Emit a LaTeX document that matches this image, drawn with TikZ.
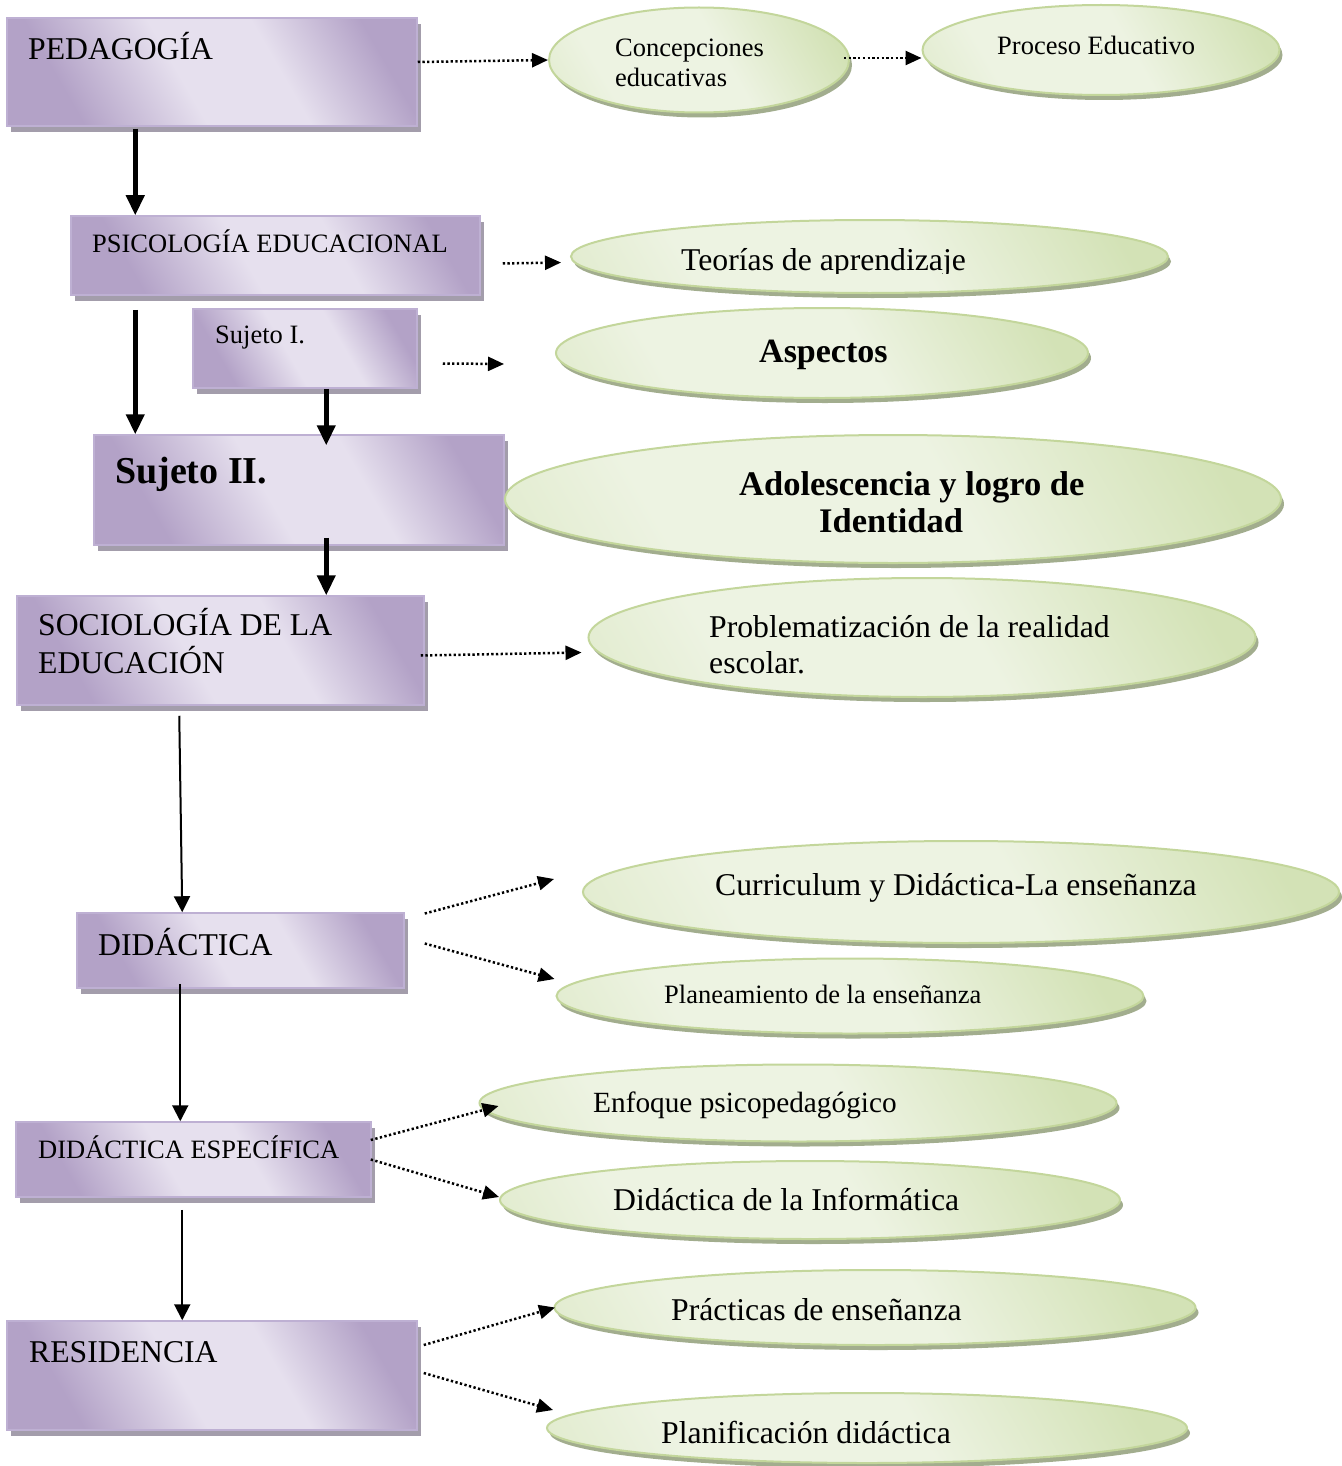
\documentclass[tikz,border=0pt]{standalone}
\usepackage{fontspec}
\setmainfont{Liberation Serif}
\usetikzlibrary{shapes.geometric,shadows,arrows.meta}
\definecolor{lilaDark}{HTML}{B3A2C7}
\definecolor{lilaLight}{HTML}{E6E0EE}
\definecolor{lilaBorder}{HTML}{BEB0D3}
\definecolor{boxShadow}{HTML}{A39DAB}
\definecolor{greenDark}{HTML}{D3E2B6}
\definecolor{greenLight}{HTML}{EDF3E2}
\definecolor{greenBorder}{HTML}{C3D69B}
\definecolor{ovalShadow}{HTML}{A2AD8E}
\pgfdeclarehorizontalshading{lilashade}{100bp}{color(0bp)=(lilaDark); color(27bp)=(lilaDark); color(45bp)=(lilaLight); color(60bp)=(lilaLight); color(76bp)=(lilaDark); color(100bp)=(lilaDark)}
\pgfdeclarehorizontalshading{greenshade}{100bp}{color(0bp)=(greenDark); color(30bp)=(greenLight); color(55bp)=(greenLight); color(78bp)=(greenDark); color(100bp)=(greenDark)}
\newcommand{\fsL}{\fontsize{31.7pt}{38pt}\selectfont}
\newcommand{\fsM}{\fontsize{26.5pt}{31pt}\selectfont}
\newcommand{\fsE}{\fontsize{29.3pt}{34pt}\selectfont}
\begin{document}
\begin{tikzpicture}[x=1pt,y=-1pt,
  box/.style={rectangle,draw=lilaBorder,line width=1.5pt,shading=lilashade,shading angle=30,
    general shadow={fill=boxShadow,shadow xshift=4pt,shadow yshift=-6pt},inner sep=0pt},
  oval/.style={ellipse,draw=greenBorder,line width=2pt,shading=greenshade,shading angle=30,
    general shadow={fill=ovalShadow,shadow xshift=3pt,shadow yshift=-5pt},inner sep=0pt},
  txt/.style={anchor=base west,inner sep=0pt},
  thickarrow/.style={line width=4.5pt,-{Triangle[length=20pt,width=18pt]}},
  thinarrow/.style={line width=2pt,-{Triangle[length=16pt,width=16pt]}},
  dotarrow/.style={line width=2.5pt,dash pattern=on 2.3pt off 2.4pt,-{Triangle[length=16pt,width=14pt]}}]
\useasboundingbox (0,0) rectangle (1341,1466);
\node[box,minimum width=410pt,minimum height=108pt] (ped) at (212,72) {};
\node[box,minimum width=409pt,minimum height=79pt] (psi) at (275.5,255.5) {};
\node[box,minimum width=224pt,minimum height=79pt] (suj1) at (305,348.5) {};
\node[box,minimum width=410pt,minimum height=110pt] (suj2) at (299,490) {};
\node[box,minimum width=407pt,minimum height=109pt] (soc) at (220.5,650.5) {};
\node[box,minimum width=327pt,minimum height=75pt] (did) at (240.5,950.5) {};
\node[box,minimum width=355pt,minimum height=75pt] (dide) at (193.5,1159.5) {};
\node[box,minimum width=410pt,minimum height=109pt] (res) at (212,1375.5) {};
\node[oval,minimum width=300pt,minimum height=105pt] (conc) at (699,60) {};
\node[oval,minimum width=357pt,minimum height=90pt] (proc) at (1101,50) {};
\node[oval,minimum width=597pt,minimum height=73pt] (teo) at (869.5,256.5) {};
\node[oval,minimum width=532pt,minimum height=90pt] (asp) at (822,353) {};
\node[oval,minimum width=776pt,minimum height=128pt] (ado) at (893,499) {};
\node[oval,minimum width=667pt,minimum height=119pt] (prob) at (922,637.5) {};
\node[oval,minimum width=756pt,minimum height=102pt] (curr) at (961,892) {};
\node[oval,minimum width=587pt,minimum height=75pt] (plan) at (850,996) {};
\node[oval,minimum width=637pt,minimum height=77pt] (enf) at (798,1103) {};
\node[oval,minimum width=620pt,minimum height=78pt] (dinf) at (810,1200) {};
\node[oval,minimum width=641pt,minimum height=75pt] (prac) at (875,1307.5) {};
\node[oval,minimum width=640pt,minimum height=70pt] (plnf) at (867,1428) {};
\node[txt,font=\fsL] (pedT) at (28,60) {PEDAGOGÍA};
\node[txt,font=\fsM] (concT1) at (615,57) {Concepciones};
\node[txt,font=\fsM] (concT2) at (615,87) {educativas};
\node[txt,font=\fsM] (procT) at (997,55) {Proceso Educativo};
\node[txt,font=\fsM] (psiT) at (92,252) {PSICOLOGÍA EDUCACIONAL};
\begin{scope}
\clip (560,200) rectangle (1180,273);
\node[txt,font=\fsL] (teoT) at (681,270) {Teorías de aprendizaje};
\end{scope}
\node[txt,font=\fsM] (suj1T) at (215,343) {Sujeto I.};
\node[txt,font=\fontsize{34pt}{40pt}\selectfont\bfseries] (aspT) at (759,362) {Aspectos};
\node[txt,font=\fontsize{38pt}{44pt}\selectfont\bfseries] (suj2T) at (115,483) {Sujeto II.};
\node[txt,font=\fontsize{34.5pt}{40pt}\selectfont\bfseries] (adoT1) at (739,495) {Adolescencia y logro de};
\node[txt,font=\fontsize{34.5pt}{40pt}\selectfont\bfseries] (adoT2) at (819,532) {Identidad};
\node[txt,font=\fsL] (socT1) at (38,635) {SOCIOLOGÍA DE LA};
\node[txt,font=\fsL] (socT2) at (38,673) {EDUCACIÓN};
\node[txt,font=\fsL] (probT1) at (709,637) {Problematización de la realidad};
\node[txt,font=\fsL] (probT2) at (709,673) {escolar.};
\node[txt,font=\fsL] (currT) at (715,895) {Curriculum y Didáctica-La enseñanza};
\node[txt,font=\fsL] (didT) at (98,955) {DIDÁCTICA};
\node[txt,font=\fsM] (planT) at (664,1003) {Planeamiento de la enseñanza};
\node[txt,font=\fsM] (dideT) at (38,1158) {DIDÁCTICA ESPECÍFICA};
\node[txt,font=\fsE] (enfT) at (593,1112) {Enfoque psicopedagógico};
\node[txt,font=\fsL] (dinfT) at (613,1210) {Didáctica de la Informática};
\node[txt,font=\fsL] (resT) at (29,1362) {RESIDENCIA};
\node[txt,font=\fsL] (pracT) at (671,1320) {Prácticas de enseñanza};
\node[txt,font=\fsL] (plnfT) at (661,1443) {Planificación didáctica};
\coordinate (aspIn) at (504,364);
\draw[dotarrow] ([yshift=10pt]ped.east) -- (conc.west);
\draw[dotarrow] ([xshift=-6pt,yshift=2pt]conc.east) -- ([yshift=-8pt]proc.west);
\draw[thickarrow] ([xshift=129pt,yshift=-2pt]ped.south west) -- ([xshift=65pt]psi.north west);
\draw[dotarrow] ([xshift=22pt,yshift=-8pt]psi.east) -- ([xshift=-9pt,yshift=-6pt]teo.west);
\draw[thickarrow] ([xshift=65pt,yshift=-14pt]psi.south west) -- ([xshift=42pt]suj2.north west);
\draw[dotarrow] ([xshift=25pt,yshift=-15pt]suj1.east) -- (aspIn);
\draw[thickarrow] ([xshift=134pt]suj1.south west) -- ([xshift=233pt,yshift=-11pt]suj2.north west);
\draw[thickarrow] ([xshift=233pt,yshift=8pt]suj2.south west) -- ([xshift=310pt]soc.north west);
\draw[dotarrow] ([xshift=-4pt,yshift=-5pt]soc.east) -- ([xshift=-6pt,yshift=-15pt]prob.west);
\draw[thinarrow] ([xshift=163pt,yshift=-10pt]soc.south west) -- ([xshift=106pt]did.north west);
\draw[dotarrow] ([xshift=20pt,yshift=37pt]did.east) -- ([xshift=-28pt,yshift=13pt]curr.west);
\draw[dotarrow] ([xshift=20pt,yshift=7pt]did.east) -- ([xshift=-1pt,yshift=17pt]plan.west);
\draw[thinarrow] ([xshift=104pt,yshift=5pt]did.south west) -- ([xshift=165pt]dide.north west);
\draw[dotarrow] ([xshift=-1pt,yshift=19.5pt]dide.east) -- ([xshift=20pt,yshift=-3pt]enf.west);
\draw[dotarrow] ([xshift=-1pt]dide.east) -- ([yshift=3pt]dinf.west);
\draw[thinarrow] ([xshift=167pt,yshift=-12pt]dide.south west) -- ([xshift=176pt]res.north west);
\draw[dotarrow] ([xshift=6pt,yshift=30.5pt]res.east) -- ([xshift=1.5pt]prac.west);
\draw[dotarrow] ([xshift=6pt,yshift=2.5pt]res.east) -- ([xshift=7pt,yshift=18pt]plnf.west);
\end{tikzpicture}
\end{document}
